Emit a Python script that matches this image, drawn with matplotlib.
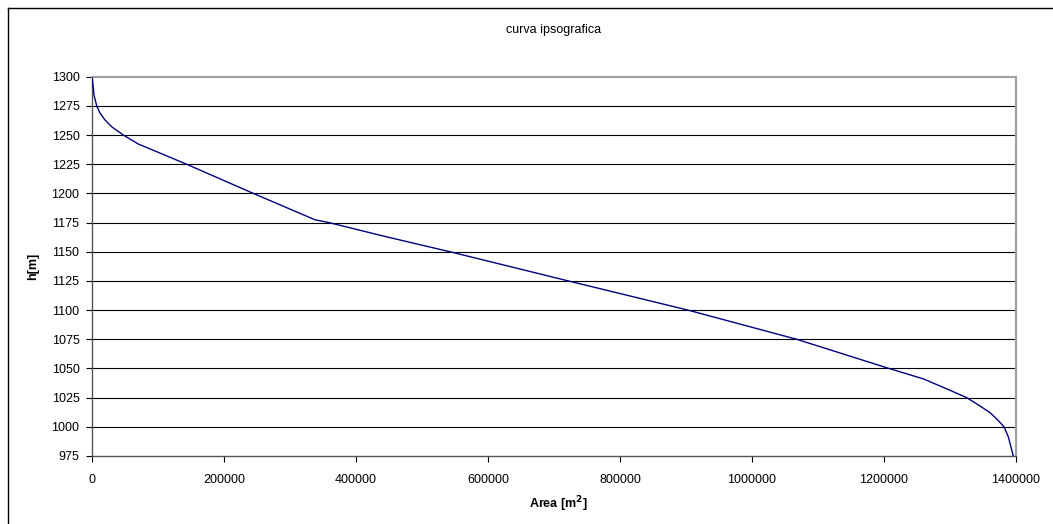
import matplotlib.pyplot as plt
from matplotlib.lines import Line2D

plt.rcParams['font.family'] = ['Liberation Sans', 'DejaVu Sans']

#========================================================================================================
# Data
#========================================================================================================

area = [0, 1500, 3000, 7100, 12100, 19700, 30300, 47400, 70200, 143400, 244400,
        337900, 359000, 444000, 542400, 721700, 903000, 1067700, 1207600, 1260000,
        1300000, 1325300, 1345000, 1360600, 1372000, 1381900, 1388400, 1395900]
height = [1300, 1292.9, 1284.3, 1275, 1268.9, 1262.9, 1256.9, 1250, 1242.3, 1225, 1200,
          1177.4, 1175, 1163.1, 1150, 1125, 1100, 1075, 1050, 1041,
          1031.3, 1025, 1018, 1012.2, 1006, 1000, 991.4, 975]

x_ticks = [0, 200000, 400000, 600000, 800000, 1000000, 1200000, 1400000]
y_ticks = [975, 1000, 1025, 1050, 1075, 1100, 1125, 1150, 1175, 1200, 1225, 1250, 1275, 1300]

#========================================================================================================
# Plot
#========================================================================================================

fig = plt.figure(figsize=(10.53, 5.24), dpi=100)
ax = fig.add_axes([92/1053, 1-456/524, (1016-92)/1053, (456-76.7)/524])

#Horizontal grid lines (top and bottom ones are the frame)
for y in y_ticks[1:-1]:
    ax.axhline(y, color='black', linewidth=0.8, zorder=1)

ax.plot(area, height, color='#000080', linewidth=1.0, zorder=3)

ax.set_xlim(0, 1400000)
ax.set_ylim(975, 1300)
ax.set_xticks(x_ticks)
ax.set_xticklabels([str(v) for v in x_ticks])
ax.set_yticks(y_ticks)
ax.set_yticklabels([str(v) for v in y_ticks])
ax.tick_params(axis='both', direction='out', length=4, width=0.8, labelsize=9, colors='black')
ax.tick_params(axis='x', pad=9)
ax.tick_params(axis='y', pad=5)

for side in ['left', 'bottom']:
    ax.spines[side].set_color('#555555')
    ax.spines[side].set_linewidth(1.0)
for side in ['top', 'right']:
    ax.spines[side].set_color('#a0a0a0')
    ax.spines[side].set_linewidth(1.5)

#Labels
fig.text(554/1053, 1-30/524, 'curva ipsografica', ha='center', va='center', fontsize=9)
fig.text(558/1053, 1-504/524, 'Area [m$^\\mathbf{2}$]', ha='center', va='center',
         fontsize=9, fontweight='bold')
fig.text(33/1053, 1-266/524, 'h[m]', ha='center', va='center', rotation=90,
         fontsize=9, fontweight='bold')

#Chart area border (left and top edges visible)
fig.add_artist(Line2D([8/1053, 8/1053], [0, 1-8/524], color='black', linewidth=1.0,
                      transform=fig.transFigure))
fig.add_artist(Line2D([8/1053, 1], [1-8/524, 1-8/524], color='black', linewidth=1.0,
                      transform=fig.transFigure))

plt.savefig('out.png', dpi=100)
plt.close()
